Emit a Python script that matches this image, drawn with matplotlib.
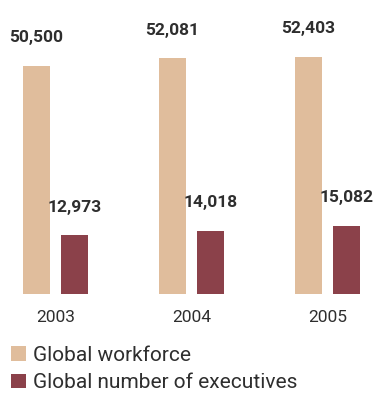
import matplotlib
matplotlib.use("Agg")
import matplotlib.pyplot as plt
import numpy as np

years = ["2003", "2004", "2005"]
workforce = [50500, 52081, 52403]
executives = [12973, 14018, 15082]
series_labels = ["Global workforce", "Global number of executives"]

WORKFORCE_COLOR = "#E0BD9C"
EXEC_COLOR = "#8B414A"
TEXT_COLOR = "#2E2E2E"

plt.rcParams["font.family"] = ["Roboto", "DejaVu Sans"]

W, H = 390, 394
fig = plt.figure(figsize=(W / 100, H / 100), dpi=100)
base_px = 294
ax = fig.add_axes([0, (H - base_px) / H, 1, base_px / H])
ax.axis("off")

x = np.arange(len(years))
width = 27 / 136
offset = 19 / 136

b1 = ax.bar(x - offset, workforce, width, color=WORKFORCE_COLOR)
b2 = ax.bar(x + offset, executives, width, color=EXEC_COLOR)

ax.set_xlim(-55.5 / 136, (W - 55.5) / 136)
ax.set_ylim(0, 65000)

for bars, vals in ((b1, workforce), (b2, executives)):
    for rect, v in zip(bars, vals):
        ax.annotate(f"{v:,}", xy=(rect.get_x() + rect.get_width() / 2, v),
                    xytext=(0, 28), textcoords="offset pixels",
                    ha="center", va="center", fontsize=12.5, fontweight="bold",
                    color=TEXT_COLOR)

for i, yr in enumerate(years):
    ax.annotate(yr, xy=(i, 0), xycoords=("data", "axes fraction"),
                xytext=(0, -24), textcoords="offset pixels",
                ha="center", va="center", fontsize=12.5, color=TEXT_COLOR)

fig.legend([b1, b2], series_labels, loc="upper left",
           bbox_to_anchor=(11 / W, 1 - 346 / H), frameon=False,
           fontsize=15, handlelength=0.72, handleheight=0.72,
           handletextpad=0.34, labelspacing=0.4, borderpad=0,
           borderaxespad=0, labelcolor=TEXT_COLOR)

fig.savefig("out.png", dpi=100)
